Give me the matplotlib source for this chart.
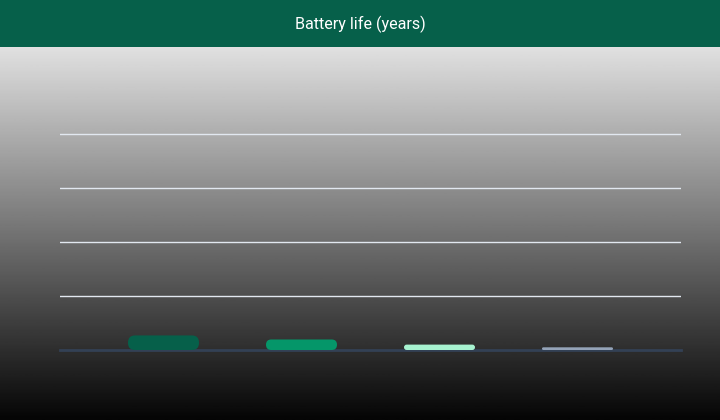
import numpy as np
import matplotlib
matplotlib.use("Agg")
import matplotlib.pyplot as plt
from matplotlib.patches import FancyBboxPatch, Rectangle

# Chart data
CATEGORIES = ["Phone", "Laptop", "Tablet", "Watch"]
BATTERY_YEARS = [2.7, 1.95, 1.0, 0.5]
BAR_COLORS = ["#06604a", "#059669", "#a7f3d0", "#94a3b8"]
GRID_TICKS = [10, 20, 30, 40]
TITLE = "Battery life (years)"

W, H = 720, 420
fig = plt.figure(figsize=(W / 100, H / 100), dpi=100)

# Gradient background below the header
bg = fig.add_axes([0, 0, 1, 373 / H])
bg.axis("off")
grad = np.linspace(0.88, 0.02, 256).reshape(-1, 1)
bg.imshow(grad, cmap="gray", vmin=0, vmax=1, aspect="auto", extent=[0, 1, 0, 1])

# Header band
fig.patches.append(Rectangle((0, 373 / H), 1, 47 / H, transform=fig.transFigure,
                             facecolor="#06604a", edgecolor="none", zorder=0))
fig.text(0.5, (H - 24.5) / H, TITLE, ha="center", va="center", color="white",
         fontsize=11.6, family="Roboto")

# Plot area: x 60..681 px, y baseline at 350 px, grid every 54 px
left, right, bottom, top = 60, 681, 350, 130
ax = fig.add_axes([left / W, (H - bottom) / H, (right - left) / W, (bottom - top) / H])
ax.set_facecolor("none")
px_per_unit_y = 54 / 10
ax.set_ylim(0, (bottom - top) / px_per_unit_y)
ax.set_xlim(-0.75, len(CATEGORIES) - 0.25)
px_per_unit_x = (right - left) / (len(CATEGORIES) + 0.5)
for s in ax.spines.values():
    s.set_visible(False)
ax.set_xticks([])
ax.set_yticks([])

for g in GRID_TICKS:
    ax.axhline(g, color="#e2e8f0", lw=1, zorder=1)
ax.axhline(0, color="#334155", lw=2, zorder=2, clip_on=False)

aspect = px_per_unit_x / px_per_unit_y
bar_w = 71 / px_per_unit_x
for i, (val, col) in enumerate(zip(BATTERY_YEARS, BAR_COLORS)):
    h_px = val * px_per_unit_y
    r_px = min(7, h_px / 2)
    box = FancyBboxPatch((i - bar_w / 2, 0), bar_w, val,
                         boxstyle=f"round,pad=0,rounding_size={r_px / px_per_unit_x}",
                         mutation_aspect=aspect, facecolor=col, edgecolor="none",
                         zorder=3, clip_on=False)
    ax.add_patch(box)

fig.savefig("out.png", dpi=100)
